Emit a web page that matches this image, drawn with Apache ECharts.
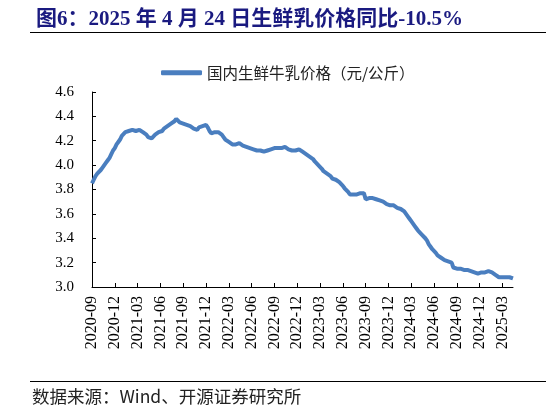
<!DOCTYPE html>
<html>
<head>
<meta charset="utf-8">
<script src="https://cdn.jsdelivr.net/npm/echarts@6/dist/echarts.min.js"></script>
<style>
html,body{margin:0;padding:0;background:#fff;}
#c{width:546px;height:407px;}
</style>
</head>
<body>
<div id="c"></div>
<script>
// Weekly series: first week 2020-09-17, last 2025-04-24
var startDate = '2020-09-17';
var weekCount = 241;
var seriesName = '国内生鲜牛乳价格（元/公斤）';
var priceValues = [
  3.85,3.88,3.91,3.93,3.94,3.96,3.98,4.00,4.02,4.04,4.06,4.09,4.12,
  4.14,4.17,4.19,4.21,4.24,4.25,4.27,4.28,
  4.28,4.28,4.29,4.29,4.28,4.29,4.29,4.28,
  4.27,4.26,4.25,4.23,4.22,4.22,4.23,
  4.25,4.26,4.27,4.27,4.28,4.30,
  4.31,4.32,4.33,4.34,4.35,4.36,4.38,
  4.37,4.35,4.34,4.34,4.33,4.33,4.32,
  4.32,4.31,4.30,4.30,4.29,
  4.31,4.32,4.32,4.32,4.33,
  4.31,4.28,4.26,4.26,4.27,
  4.27,4.27,4.26,4.25,4.23,
  4.21,4.20,4.19,4.18,4.17,4.17,4.17,
  4.18,4.18,4.17,4.16,4.15,4.15,4.14,
  4.14,4.13,4.13,4.13,4.12,4.12,4.12,4.11,4.11,4.12,
  4.12,4.13,4.13,4.13,4.14,4.14,4.14,4.14,4.14,4.14,
  4.15,4.14,4.13,4.13,4.12,4.12,4.12,4.12,4.13,4.12,
  4.11,4.10,4.09,4.08,4.07,4.06,4.05,4.03,4.02,4.00,
  3.99,3.97,3.95,3.94,3.93,3.92,3.91,3.89,3.89,3.88,
  3.87,3.86,3.85,3.83,3.81,3.80,3.78,3.76,3.76,3.76,
  3.76,3.76,3.77,3.77,3.78,3.77,
  3.72,3.73,3.73,3.73,3.73,3.73,3.72,3.72,3.71,
  3.70,3.70,3.69,3.68,3.68,3.67,3.67,3.67,3.66,3.65,
  3.65,3.64,3.63,3.62,3.60,
  3.58,3.56,3.54,3.52,3.50,3.48,3.46,3.45,3.43,3.42,
  3.40,3.38,3.35,3.33,3.31,3.30,3.28,3.26,3.25,3.24,
  3.23,3.22,3.22,3.21,3.21,3.20,
  3.16,3.15,3.15,3.15,3.15,3.14,3.14,3.14,3.14,3.13,
  3.13,3.13,3.12,3.12,3.11,3.11,3.12,3.12,3.12,3.12,
  3.13,3.13,3.12,3.11,3.10,3.09,3.08,
  3.09,3.08,3.09,3.08,3.07,3.08,3.07,3.07
];
var yTicks = [3.0,3.2,3.4,3.6,3.8,4.0,4.2,4.4,4.6];
var titleText = '图6：2025 年 4 月 24 日生鲜乳价格同比-10.5%';
var sourceText = '数据来源：Wind、开源证券研究所';

function pad(n){return n<10?'0'+n:''+n;}
var categories = [];
(function(){
  var p = startDate.split('-');
  var d = new Date(Date.UTC(+p[0], +p[1]-1, +p[2]));
  for (var i=0;i<weekCount;i++){
    var dd = new Date(d.getTime() + i*7*86400000);
    categories.push(dd.getUTCFullYear()+'-'+pad(dd.getUTCMonth()+1)+'-'+pad(dd.getUTCDate()));
  }
})();

var serif = '"Liberation Serif","Times New Roman","Noto Sans CJK SC",serif';
var chart = echarts.init(document.getElementById('c'), null, {renderer:'canvas'});
chart.setOption({
  animation:false,
  backgroundColor:'#fff',
  title:{
    text:titleText,
    left:31, top:4,
    textStyle:{fontFamily:serif, fontWeight:'bold', fontSize:21, color:'#1a1a80'}
  },
  legend:{
    top:60, left:156,
    itemWidth:41, itemHeight:5, itemGap:10,
    icon:'roundRect',
    textStyle:{fontFamily:'"Noto Sans CJK SC",sans-serif', fontSize:15.5, color:'#222'},
    data:[seriesName]
  },
  grid:{left:92, right:33, top:92, bottom:120, containLabel:false},
  xAxis:{
    type:'category',
    data:categories,
    boundaryGap:false,
    axisLine:{lineStyle:{color:'#000', width:1}},
    axisTick:{inside:true, length:4, interval:12, lineStyle:{color:'#000'}},
    axisLabel:{
      interval:12, rotate:90, margin:9,
      fontFamily:serif, fontSize:16, color:'#000',
      formatter:function(v){return v.slice(0,7);}
    },
    splitLine:{show:false}
  },
  yAxis:{
    type:'value',
    min:yTicks[0], max:yTicks[yTicks.length-1], interval:0.2,
    axisLine:{show:true, lineStyle:{color:'#000', width:1}},
    axisTick:{show:true, inside:true, length:4, lineStyle:{color:'#000'}},
    axisLabel:{fontFamily:serif, fontSize:15, color:'#000', margin:18,
      formatter:function(v){return v.toFixed(1);}},
    splitLine:{show:false}
  },
  series:[{
    name:seriesName,
    type:'line',
    data:priceValues,
    symbol:'none',
    smooth:false,
    lineStyle:{color:'#4a7ebf', width:4},
    itemStyle:{color:'#4a7ebf'}
  }],
  graphic:[
    {type:'line', shape:{x1:30,y1:32.5,x2:546,y2:32.5}, style:{stroke:'#000', lineWidth:1}},
    {type:'line', shape:{x1:30,y1:381.5,x2:546,y2:381.5}, style:{stroke:'#000', lineWidth:1}},
    {type:'text', left:32, top:388, style:{text:sourceText, font:'17.5px "Noto Sans CJK SC", sans-serif', fill:'#222'}}
  ]
});
</script>
</body>
</html>
